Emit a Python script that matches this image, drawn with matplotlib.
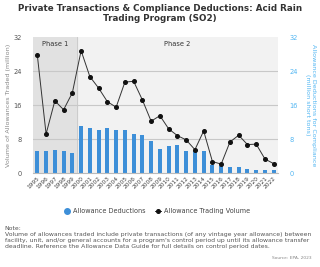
import numpy as np
import matplotlib.pyplot as plt
from matplotlib.lines import Line2D

years = list(range(1995, 2023))
deductions = [5.2, 5.3, 5.5, 5.2, 4.8, 11.1, 10.6, 10.1, 10.5, 10.2, 10.1, 9.3, 8.9, 7.6,
              5.6, 6.3, 6.5, 5.3, 5.3, 5.3, 2.0, 1.6, 1.3, 1.3, 0.9, 0.7, 0.8, 0.8]
trading = [27.7, 9.2, 17.0, 14.9, 18.9, 28.8, 22.7, 20.0, 16.8, 15.5, 21.4, 21.6, 17.2, 12.2,
           13.5, 10.4, 8.8, 7.8, 5.5, 9.9, 2.7, 2.1, 7.3, 8.9, 6.7, 6.8, 3.3, 2.2]
yticks = [0, 8, 16, 24, 32]

blue = "#3d8fd8"
lightblue = "#52b6f2"
x = np.arange(len(years))

fig = plt.figure(figsize=(3.2, 2.67), dpi=100)
ax = fig.add_axes([0.103, 0.352, 0.766, 0.509])
ax.set_facecolor("#f2f2f2")
ax.axvspan(-0.5, 4.5, color="#e1e1e1", zorder=0)
ax.axvline(4.5, color="#c8c8c8", lw=0.6, zorder=1)
for t in yticks[1:-1]:
    ax.axhline(t, color="#c8c8c8", lw=0.8, zorder=1)

ax.bar(x, deductions, width=0.45, color=blue, zorder=2)
ax.plot(x, trading, color="#333333", lw=0.7, marker="o", ms=2.6, mfc="#111111",
        mec="#111111", zorder=3)

ax.set_xlim(-0.5, len(years) - 0.5)
ax.set_ylim(0, 32)
ax.set_yticks(yticks)
ax.set_xticks(x)
ax.set_xticklabels([str(y) for y in years], rotation=45, ha="right", rotation_mode="anchor")
ax.tick_params(axis="x", labelsize=4.2, length=0, pad=2, colors="#444444")
ax.tick_params(axis="y", labelsize=4.8, length=0, pad=8, colors="#555555")
for s in ["top", "right", "left"]:
    ax.spines[s].set_visible(False)
ax.spines["bottom"].set_color("#bbbbbb")
ax.set_ylabel("Volume of Allowances Traded (million)", fontsize=4.6, color="#888888", labelpad=2)

ax2 = ax.twinx()
ax2.set_ylim(0, 32)
ax2.set_yticks(yticks)
ax2.tick_params(axis="y", labelsize=4.8, length=0, pad=8, colors=lightblue)
for s in ax2.spines.values():
    s.set_visible(False)
ax2.set_ylabel("Allowance Deductions for Compliance\n(million short tons)", fontsize=4.6,
               color=lightblue, rotation=270, labelpad=13, linespacing=1.1)

ax.text(2, 31, "Phase 1", ha="center", va="top", fontsize=4.8, color="#333333")
ax.text(16, 31, "Phase 2", ha="center", va="top", fontsize=4.8, color="#333333")

fig.text(0.5, 0.985, "Private Transactions & Compliance Deductions: Acid Rain\nTrading Program (SO2)",
         ha="center", va="top", fontsize=6.3, fontweight="bold", color="#333333", linespacing=1.15)

handles = [Line2D([], [], ls="none", marker="o", ms=4, color=blue),
           Line2D([], [], color="#333333", lw=0.7, marker="o", ms=2.6, mfc="#111111", mec="#111111")]
fig.legend(handles, ["Allowance Deductions", "Allowance Trading Volume"], loc="center",
           bbox_to_anchor=(0.49, 0.21), ncol=2, fontsize=4.7, frameon=False,
           handlelength=1.0, columnspacing=1.5, handletextpad=0.4, labelcolor="#444444")

note = ("Note:\n"
        "Volume of allowances traded include private transactions (of any vintage year allowance) between\n"
        "facility, unit, and/or general accounts for a program's control period up until its allowance transfer\n"
        "deadline. Reference the Allowance Data Guide for full details on control period dates.")
fig.text(0.015, 0.155, note, ha="left", va="top", fontsize=4.4, color="#555555", linespacing=1.3)
fig.text(0.975, 0.034, "Source: EPA, 2023", ha="right", va="center", fontsize=3.2, color="#888888")

fig.savefig("out.png", dpi=100)
